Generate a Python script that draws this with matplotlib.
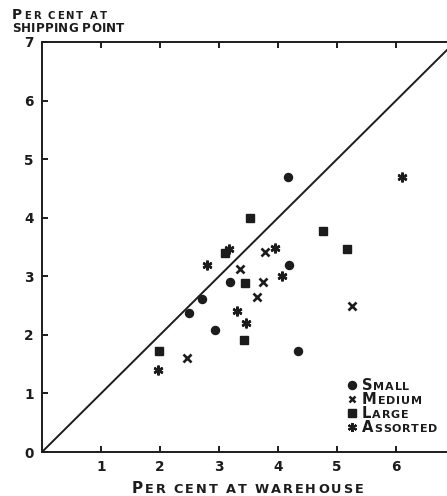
import matplotlib
matplotlib.use("Agg")
import matplotlib.pyplot as plt

plt.rcParams['font.family'] = ['DejaVu Sans']
plt.rcParams['font.weight'] = 'bold'

ink = '#1c1c1c'

# shipping-point vs warehouse percentages
small_x = [4.17, 4.19, 3.19, 2.71, 2.49, 2.93, 4.34]
small_y = [4.70, 3.20, 2.90, 2.61, 2.37, 2.09, 1.72]

medium_x = [3.78, 3.36, 3.74, 3.64, 2.46, 5.25]
medium_y = [3.41, 3.13, 2.91, 2.65, 1.60, 2.50]

large_x = [3.10, 3.44, 3.53, 3.42, 1.98, 4.76, 5.17]
large_y = [3.39, 2.88, 3.99, 1.91, 1.72, 3.77, 3.47]

assorted_x = [2.80, 3.17, 3.95, 4.07, 3.30, 3.46, 1.97, 6.10]
assorted_y = [3.19, 3.46, 3.48, 3.00, 2.40, 2.21, 1.40, 4.70]

xticks = [1, 2, 3, 4, 5, 6]
yticks = [0, 1, 2, 3, 4, 5, 6, 7]
legend_rows = ['Small', 'Medium', 'Large', 'Assorted']

W, H = 447, 496
fig = plt.figure(figsize=(W / 100, H / 100), dpi=100)
ax = fig.add_axes([42 / W, 44 / H, 1 - 42 / W, 410 / H])
ax.set_xlim(0, 6.864)
ax.set_ylim(0, 7)

# equal-percentage line
ax.plot([0, 7], [0, 7], color=ink, lw=1.4)

ms = 5.8
ax.plot(small_x, small_y, 'o', color=ink, ms=ms, ls='none')
ax.plot(medium_x, medium_y, 'x', color=ink, ms=5.8, mew=1.9, ls='none')
ax.plot(large_x, large_y, 's', color=ink, ms=5.6, ls='none')
ax.plot(assorted_x, assorted_y, marker=(6, 2, 0), color=ink, ms=7, mew=1.8, ls='none')

ax.spines['right'].set_visible(False)
for s in ['left', 'bottom', 'top']:
    ax.spines[s].set_linewidth(1.4)
    ax.spines[s].set_color(ink)

ax.set_xticks(xticks)
ax.set_yticks(yticks)
ax.tick_params(axis='x', direction='in', top=True, length=4.5, width=1.4,
               colors=ink, labelsize=9.8, pad=6)
ax.tick_params(axis='y', direction='in', right=False, length=4.5, width=1.4,
               colors=ink, labelsize=9.8, pad=6)
for lab in ax.get_xticklabels() + ax.get_yticklabels():
    lab.set_fontweight('bold')

renderer = fig.canvas.get_renderer()


def smallcaps(px, py, word, big, small, track=0.0, gap=4.0):
    # capitals at full size, lower case as reduced capitals; letters are
    # set one by one (in pixels) so the spacing can be opened up
    x = px
    for ch in word:
        if ch == ' ':
            x += gap
            continue
        size = big if ch.isupper() else small
        t = fig.text(x / W, py / H, ch.upper(), fontsize=size, fontweight='bold',
                     color=ink, va='baseline', ha='left')
        x = t.get_window_extent(renderer).x1 + track


# axis titles
smallcaps(132, 3, 'Per cent at warehouse', 11, 9.3, track=2.0, gap=6)
smallcaps(12, 477, 'Per cent at', 9.9, 7.3, track=1.9, gap=5)
smallcaps(12, 464, 'SHIPPING POINT', 8.6, 8.6, track=0.2, gap=4)

# legend drawn by hand
legend_marks = [dict(marker='o', ms=ms), dict(marker='x', ms=5, mew=1.8),
                dict(marker='s', ms=5.4), dict(marker=(6, 2, 0), ms=6.5, mew=1.6)]
row_y = [385, 399, 413, 427]
for name, mk, py in zip(legend_rows, legend_marks, row_y):
    ax.plot([(352 - 42) / (W - 42)], [(452 - py) / 410], color=ink, ls='none',
            transform=ax.transAxes, clip_on=False, **mk)
    smallcaps(362, H - py - 5, name, 10.6, 8.0, track=0.8)

fig.savefig('out.png', dpi=100, facecolor='white')
